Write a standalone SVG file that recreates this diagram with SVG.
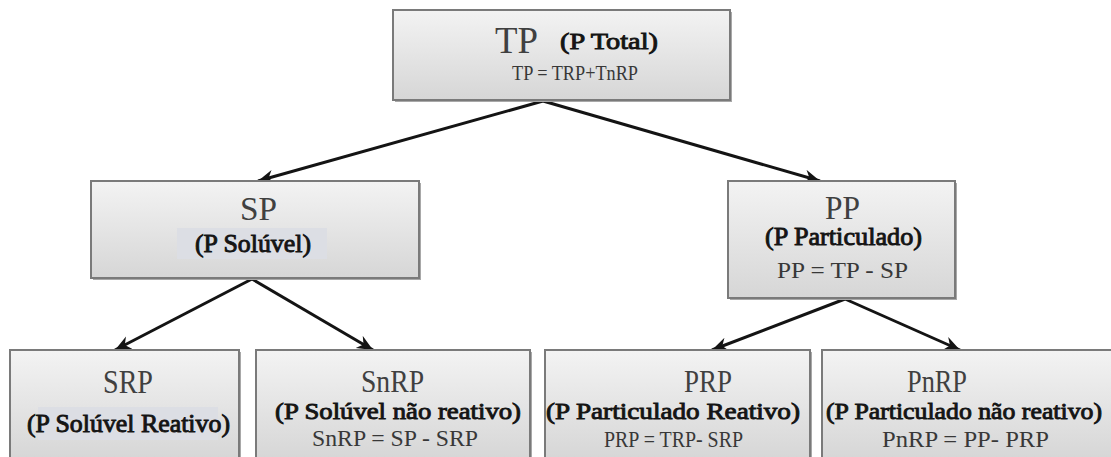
<svg xmlns="http://www.w3.org/2000/svg" width="1111" height="457" viewBox="0 0 1111 457">
  <defs>
    <linearGradient id="boxFill" x1="0" y1="0" x2="0" y2="1">
      <stop offset="0" stop-color="#f3f3f3"/>
      <stop offset="1" stop-color="#d6d6d6"/>
    </linearGradient>
    <marker id="arrow" markerUnits="userSpaceOnUse" markerWidth="18" markerHeight="16" refX="16" refY="7" orient="auto">
      <path d="M0,0 L16,7 L0,14 L5,7 z" fill="#141414"/>
    </marker>
    <style>
      .shadow { fill: #a8a8a8; }
      .box { fill: url(#boxFill); stroke: #7a7a7a; stroke-width: 2; }
      .hl { fill: #dcdee4; }
      text { font-family: "Liberation Serif", "Times New Roman", serif; font-weight: normal; }
      .title { fill: #404040; }
      .sub { fill: #141414; stroke: #141414; stroke-width: 0.9; }
      .eq { fill: #383838; }
      .conn { stroke: #141414; stroke-width: 3; fill: none; marker-end: url(#arrow); }
    </style>
  </defs>
  <rect width="1111" height="457" fill="#ffffff"/>

  <g id="connectors">
    <line class="conn" x1="543" y1="101" x2="258" y2="181"/>
    <line class="conn" x1="543" y1="101" x2="820" y2="181"/>
    <line class="conn" x1="252" y1="279" x2="115" y2="350"/>
    <line class="conn" x1="252" y1="279" x2="373" y2="350"/>
    <line class="conn" x1="845" y1="299" x2="712" y2="350"/>
    <line class="conn" x1="845" y1="299" x2="960" y2="350"/>
  </g>

  <g id="TP">
    <rect class="shadow" x="395" y="12" width="337" height="90"/>
    <rect class="box" x="393" y="10" width="337" height="90"/>
    <text class="title" x="495" y="53" font-size="38" textLength="43" lengthAdjust="spacingAndGlyphs">TP</text>
    <text class="sub" x="560" y="49" font-size="24" textLength="98" lengthAdjust="spacingAndGlyphs">(P Total)</text>
    <text class="eq" x="512" y="80" font-size="22" textLength="126" lengthAdjust="spacingAndGlyphs">TP = TRP+TnRP</text>
  </g>

  <g id="SP">
    <rect class="shadow" x="93" y="183" width="328" height="97"/>
    <rect class="box" x="91" y="181" width="328" height="97"/>
    <rect class="hl" x="177" y="228" width="150" height="31"/>
    <text class="title" x="240" y="220" font-size="33" textLength="37" lengthAdjust="spacingAndGlyphs">SP</text>
    <text class="sub" x="195" y="252" font-size="25" textLength="116" lengthAdjust="spacingAndGlyphs">(P Solúvel)</text>
  </g>

  <g id="PP">
    <rect class="shadow" x="730" y="183" width="227" height="117"/>
    <rect class="box" x="728" y="181" width="227" height="117"/>
    <text class="title" x="825" y="219" font-size="33" textLength="35" lengthAdjust="spacingAndGlyphs">PP</text>
    <text class="sub" x="765" y="245" font-size="25" textLength="157" lengthAdjust="spacingAndGlyphs">(P Particulado)</text>
    <text class="eq" x="777" y="278" font-size="24" textLength="131" lengthAdjust="spacingAndGlyphs">PP = TP - SP</text>
  </g>

  <g id="SRP">
    <rect class="shadow" x="12" y="352" width="229" height="110"/>
    <rect class="box" x="10" y="350" width="229" height="110"/>
    <rect class="hl" x="38" y="407" width="180" height="33"/>
    <text class="title" x="103" y="393" font-size="33" textLength="50" lengthAdjust="spacingAndGlyphs">SRP</text>
    <text class="sub" x="27" y="432" font-size="25" textLength="203" lengthAdjust="spacingAndGlyphs">(P Solúvel Reativo)</text>
  </g>

  <g id="SnRP">
    <rect class="shadow" x="258" y="352" width="274" height="110"/>
    <rect class="box" x="256" y="350" width="274" height="110"/>
    <text class="title" x="361" y="392" font-size="32" textLength="63" lengthAdjust="spacingAndGlyphs">SnRP</text>
    <text class="sub" x="275" y="419" font-size="24" textLength="246" lengthAdjust="spacingAndGlyphs">(P Solúvel não reativo)</text>
    <text class="eq" x="312" y="446" font-size="23" textLength="166" lengthAdjust="spacingAndGlyphs">SnRP = SP - SRP</text>
  </g>

  <g id="PRP">
    <rect class="shadow" x="547" y="352" width="265" height="110"/>
    <rect class="box" x="545" y="350" width="265" height="110"/>
    <text class="title" x="684" y="392" font-size="32" textLength="48" lengthAdjust="spacingAndGlyphs">PRP</text>
    <text class="sub" x="546" y="419" font-size="24" textLength="254" lengthAdjust="spacingAndGlyphs">(P Particulado Reativo)</text>
    <text class="eq" x="604" y="447" font-size="23" textLength="139" lengthAdjust="spacingAndGlyphs">PRP = TRP- SRP</text>
  </g>

  <g id="PnRP">
    <rect class="shadow" x="824" y="352" width="290" height="110"/>
    <rect class="box" x="822" y="350" width="290" height="110"/>
    <text class="title" x="907" y="392" font-size="32" textLength="60" lengthAdjust="spacingAndGlyphs">PnRP</text>
    <text class="sub" x="826" y="419" font-size="24" textLength="276" lengthAdjust="spacingAndGlyphs">(P Particulado não reativo)</text>
    <text class="eq" x="882" y="447" font-size="23" textLength="167" lengthAdjust="spacingAndGlyphs">PnRP = PP- PRP</text>
  </g>
</svg>
